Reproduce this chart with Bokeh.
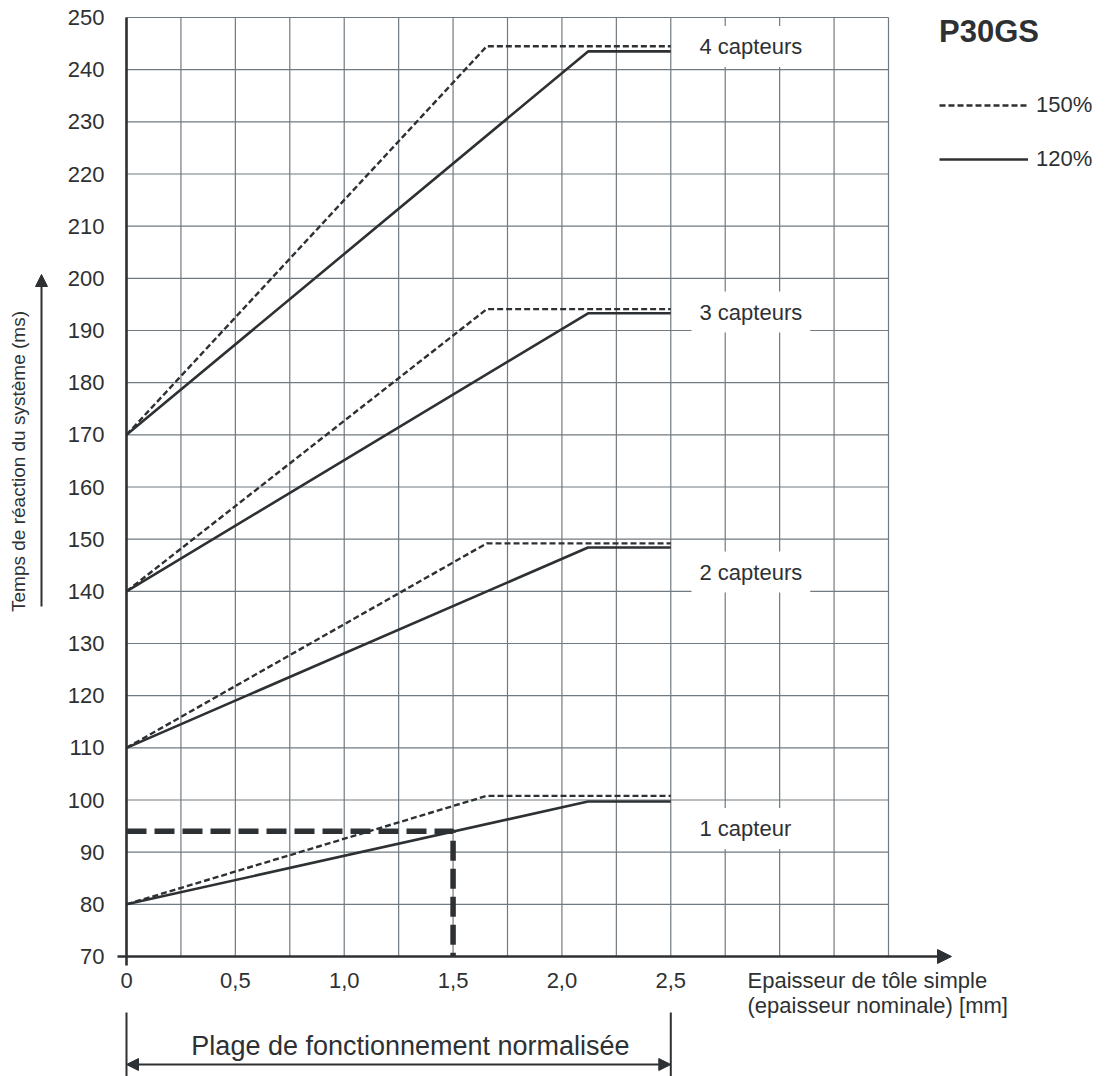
import math
from bokeh.plotting import figure
from bokeh.models import Range1d, Label, Arrow, NormalHead, Legend, LegendItem
from bokeh.core.properties import value
from bokeh.embed import file_html
from bokeh.resources import INLINE

# ---------------- data ----------------
capteurs = ["1 capteur", "2 capteurs", "3 capteurs", "4 capteurs"]
start_ms = [80, 110, 140, 170]            # response time at 0 mm
kink_150 = [1.655, 1.655, 1.655, 1.655]   # thickness where the 150% curve saturates
plateau_150 = [100.8, 149.2, 194.1, 244.5]
kink_120 = [2.12, 2.12, 2.12, 2.12]       # thickness where the 120% curve saturates
plateau_120 = [99.7, 148.4, 193.3, 243.5]
x_end = 2.5
example_x = 1.5
example_y = 94.0

x_ticks = [0, 0.5, 1, 1.5, 2, 2.5]
x_tick_labels = ["0", "0,5", "1,0", "1,5", "2,0", "2,5"]
x_grid = [i * 0.25 for i in range(15)]
y_ticks = list(range(70, 251, 10))
y_tick_labels = [str(v) for v in y_ticks]

# ---------------- layout ----------------
W, H = 1108, 1076
F_LEFT, F_RIGHT, F_TOP, F_BOTTOM = 126, 888, 17, 956   # plot area in pixels
X0, X1, Y0, Y1 = 0.0, 3.5, 70.0, 250.0
PX_X = (F_RIGHT - F_LEFT) / (X1 - X0)
PX_Y = (F_BOTTOM - F_TOP) / (Y1 - Y0)


def px2x(px):
    return X0 + (px - F_LEFT) / PX_X


def px2y(py):
    return Y0 + (F_BOTTOM - py) / PX_Y


DARK = "#2e3133"
GRID = "#717a80"
FONT = "Liberation Sans"

p = figure(width=W, height=H, output_backend="svg", toolbar_location=None,
           x_axis_type=None, y_axis_type=None,
           x_range=Range1d(px2x(0), px2x(W)), y_range=Range1d(px2y(H), px2y(0)),
           min_border=0)
p.outline_line_color = None
p.background_fill_color = "white"
p.border_fill_color = "white"

# grid
p.segment(x0=x_grid, y0=[Y0] * len(x_grid), x1=x_grid, y1=[Y1] * len(x_grid),
          line_color=GRID, line_width=1.2)
p.segment(x0=[X0] * len(y_ticks), y0=y_ticks, x1=[X1] * len(y_ticks), y1=y_ticks,
          line_color=GRID, line_width=1.2)

# curves
r150 = []
r120 = []
for i in range(len(capteurs)):
    r150.append(p.line([0, kink_150[i], x_end],
                       [start_ms[i], plateau_150[i], plateau_150[i]],
                       line_dash="6 3", line_width=2.4, line_color=DARK))
    r120.append(p.line([0, kink_120[i], x_end],
                       [start_ms[i], plateau_120[i], plateau_120[i]],
                       line_width=2.6, line_color=DARK))

# reading example
p.line([0, example_x, example_x], [example_y, example_y, Y0],
       line_width=5.5, line_dash="20 8", line_color=DARK)

# axes
p.line([X0, X0], [Y0, Y1], line_color=DARK, line_width=2.6)
p.add_layout(Arrow(end=NormalHead(size=14, fill_color=DARK, line_color=DARK),
                   x_start=px2x(117), y_start=Y0, x_end=px2x(951), y_end=Y0,
                   line_width=2.6, line_color=DARK))
p.line([X0, X0], [Y0, px2y(F_BOTTOM + 9)], line_color=DARK, line_width=2.6)

# tick labels
p.text(x=x_ticks, y=[Y0] * len(x_ticks), text=x_tick_labels,
       y_offset=24, text_align="center", text_baseline="middle",
       text_font=value(FONT), text_font_size=value("22px"), text_color=DARK)
p.text(x=[X0] * len(y_ticks), y=y_ticks, text=y_tick_labels,
       x_offset=-22, text_align="right", text_baseline="middle",
       text_font=value(FONT), text_font_size=value("22px"), text_color=DARK)

# curve labels
label_px_y = [828, 571.5, 311.5, 46]
for i, name in enumerate(capteurs):
    p.add_layout(Label(x=px2x(691), y=px2y(label_px_y[i]), text=name,
                       text_align="left", text_baseline="middle",
                       text_font=FONT, text_font_size="22px", text_color=DARK,
                       background_fill_color="white", padding=8))

# y title with arrow
p.add_layout(Label(x=px2x(18), y=px2y(461), text="Temps de réaction du système (ms)",
                   angle=math.pi / 2, text_align="center", text_baseline="middle",
                   text_font=FONT, text_font_size="19px", text_color=DARK))
p.add_layout(Arrow(end=NormalHead(size=12, fill_color=DARK, line_color=DARK),
                   x_start=px2x(41), y_start=px2y(606), x_end=px2x(41), y_end=px2y(274),
                   line_width=2, line_color=DARK))

# x title
p.add_layout(Label(x=px2x(747), y=px2y(980), text="Epaisseur de tôle simple",
                   text_align="left", text_baseline="middle",
                   text_font=FONT, text_font_size="22px", text_color=DARK))
p.add_layout(Label(x=px2x(747), y=px2y(1005), text="(epaisseur nominale) [mm]",
                   text_align="left", text_baseline="middle",
                   text_font=FONT, text_font_size="22px", text_color=DARK))

# normalised operating range bracket
for xb in (X0, x_end):
    p.line([xb, xb], [px2y(1012), px2y(H + 2)], line_width=2, line_color=DARK)
p.add_layout(Arrow(start=NormalHead(size=12, fill_color=DARK, line_color=DARK),
                   end=NormalHead(size=12, fill_color=DARK, line_color=DARK),
                   x_start=X0, y_start=px2y(1064), x_end=x_end, y_end=px2y(1064),
                   line_width=2, line_color=DARK))
p.add_layout(Label(x=px2x(410), y=px2y(1045), text="Plage de fonctionnement normalisée",
                   text_align="center", text_baseline="middle",
                   text_font=FONT, text_font_size="27px", text_color=DARK))

# legend
legend = Legend(items=[LegendItem(label="150%", renderers=[r150[0]]),
                       LegendItem(label="120%", renderers=[r120[0]])],
                title="P30GS", location=(939, H - 172),
                glyph_width=89, glyph_height=24, label_height=24,
                label_standoff=8, spacing=28, padding=0, margin=0,
                title_standoff=42, border_line_color=None,
                background_fill_alpha=0,
                label_text_font=FONT, label_text_font_size="22px",
                label_text_color=DARK,
                title_text_font=FONT, title_text_font_size="31px",
                title_text_font_style="bold", title_text_color=DARK)
p.add_layout(legend)

open("out.html", "w").write(file_html(p, INLINE))
